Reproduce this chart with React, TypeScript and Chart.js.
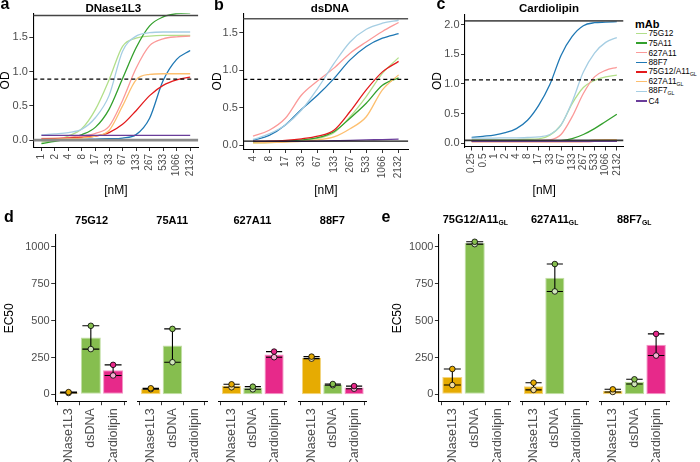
import React, { useEffect, useRef } from "react";
import { Chart, registerables } from "chart.js";
Chart.register(...registerables);

const FONT = "'Liberation Sans', Arial, Helvetica, sans-serif";
Chart.defaults.font.family = FONT;

// ---------------- data: panels a–c (OD vs concentration) ----------------
const MABS = ["75G12", "75A11", "627A11", "88F7", "75G12/A11GL", "627A11GL", "88F7GL", "C4"];
const MAB_COLORS = ["#B2DF8A", "#33A02C", "#FB9A99", "#1F78B4", "#E31A1C", "#FDBF6F", "#A6CEE3", "#6A3D9A"];

const CONC_DNASE = ["1", "2", "4", "8", "17", "33", "67", "133", "267", "533", "1066", "2132"];
const CONC_DSDNA = ["4", "8", "17", "33", "67", "133", "267", "533", "1066", "2132"];
const CONC_CARDIO = ["0.25", "0.5", "1", "2", "4", "8", "17", "33", "67", "133", "267", "533", "1066", "2132"];

// rows follow MABS order
const OD_DNASE: number[][] = [
  [-0.03, 0.0, 0.06, 0.17, 0.45, 0.88, 1.37, 1.49, 1.52, 1.53, 1.53, 1.53],
  [-0.05, -0.02, 0.02, 0.08, 0.19, 0.45, 0.9, 1.35, 1.67, 1.8, 1.85, 1.86],
  [0.025, 0.03, 0.04, 0.06, 0.1, 0.2, 0.58, 1.05, 1.38, 1.48, 1.51, 1.52],
  [0.0, 0.0, 0.005, 0.01, 0.015, 0.02, 0.03, 0.08, 0.32, 0.87, 1.18, 1.31],
  [0.015, 0.02, 0.03, 0.04, 0.06, 0.11, 0.23, 0.43, 0.65, 0.8, 0.88, 0.92],
  [0.01, 0.015, 0.02, 0.03, 0.06, 0.14, 0.5, 0.88, 0.96, 0.97, 0.97, 0.97],
  [0.075, 0.09, 0.11, 0.16, 0.33, 0.65, 1.3, 1.52, 1.57, 1.58, 1.58, 1.58],
  [0.07, 0.07, 0.07, 0.07, 0.07, 0.07, 0.07, 0.07, 0.07, 0.07, 0.07, 0.07],
];
const OD_DSDNA: number[][] = [
  [0.03, 0.035, 0.045, 0.06, 0.09, 0.165, 0.38, 0.65, 0.96, 1.17],
  [0.04, 0.045, 0.055, 0.07, 0.1, 0.18, 0.36, 0.56, 0.8, 0.9],
  [0.12, 0.2, 0.36, 0.67, 0.86, 1.03, 1.23, 1.38, 1.52, 1.64],
  [0.067, 0.13, 0.27, 0.48, 0.67, 0.89, 1.14, 1.32, 1.43, 1.49],
  [0.05, 0.055, 0.065, 0.085, 0.12, 0.2, 0.45, 0.74, 0.98, 1.12],
  [0.03, 0.035, 0.04, 0.05, 0.07, 0.11, 0.22, 0.38, 0.74, 0.94],
  [0.076, 0.15, 0.27, 0.47, 0.76, 1.09, 1.38, 1.55, 1.63, 1.67],
  [0.05, 0.05, 0.05, 0.05, 0.055, 0.06, 0.065, 0.07, 0.075, 0.08],
];
const OD_CARDIO: number[][] = [
  [0.06, 0.06, 0.06, 0.06, 0.065, 0.07, 0.075, 0.14, 0.31, 0.67, 0.94, 1.06, 1.12, 1.15],
  [0.04, 0.04, 0.04, 0.04, 0.04, 0.04, 0.04, 0.04, 0.045, 0.08, 0.15, 0.25, 0.37, 0.49],
  [0.04, 0.04, 0.04, 0.04, 0.045, 0.045, 0.05, 0.06, 0.15, 0.45, 0.84, 1.12, 1.23, 1.28],
  [0.1, 0.12, 0.14, 0.18, 0.25, 0.39, 0.64, 0.99, 1.48, 1.8, 1.98, 2.03, 2.04, 2.05],
  [0.03, 0.03, 0.03, 0.03, 0.03, 0.03, 0.03, 0.03, 0.03, 0.03, 0.03, 0.035, 0.035, 0.035],
  [0.03, 0.03, 0.03, 0.03, 0.03, 0.03, 0.03, 0.03, 0.03, 0.03, 0.035, 0.06, 0.065, 0.065],
  [0.09, 0.09, 0.09, 0.095, 0.095, 0.1, 0.11, 0.15, 0.31, 0.7, 1.2, 1.52, 1.7, 1.78],
  [0.035, 0.035, 0.035, 0.035, 0.035, 0.035, 0.035, 0.035, 0.035, 0.035, 0.035, 0.035, 0.035, 0.035],
];
// reference lines: top plateau, half-max (dashed), baseline
const REF_DNASE = [1.82, 0.89, 0.0];
const REF_DSDNA = [1.69, 0.88, 0.054];
const REF_CARDIO = [2.06, 1.07, 0.05];

const OD_TICKS_AB = [0, 0.5, 1, 1.5];
const OD_TICKS_C = [0, 0.5, 1, 1.5, 2];

// ---------------- data: panels d–e (EC50 bars) ----------------
const TARGETS = ["DNase1L3", "dsDNA", "Cardiolipin"];
const TARGET_COLORS = ["#E6AB02", "#86BE4F", "#E7298A"];
const EC50_TICKS = [0, 250, 500, 750, 1000];

const D_MABS = ["75G12", "75A11", "627A11", "88F7"];
const D_MEAN: (number | null)[][] = [[12, 386, 164], [38, 331, null], [58, 43, 271], [249, 66, 47]];
const D_REP1: (number | null)[][] = [[15, 465, 200], [41, 444, null], [68, 52, 290], [256, 70, 56]];
const D_REP2: (number | null)[][] = [[9, 307, 128], [35, 218, null], [48, 34, 252], [242, 62, 38]];

const E_MABS = ["75G12/A11GL", "627A11GL", "88F7GL"];
const E_MEAN: (number | null)[][] = [[118, 1027, null], [55, 791, null], [25, 86, 337]];
const E_REP1: (number | null)[][] = [[172, 1035, null], [79, 884, null], [34, 102, 410]];
const E_REP2: (number | null)[][] = [[63, 1019, null], [30, 698, null], [16, 70, 263]];

// ---------------- layout / style ----------------
type Area = { left: number; top: number; right: number; bottom: number };
type Box = { L: number; T: number; W: number; H: number };

const TITLE_SIZE = 12;
const TITLE_HALF = (TITLE_SIZE * 1.2) / 2;

const REF_STYLES = {
  a: [
    { color: "#444", width: 1.4, dash: [] as number[] },
    { color: "#000", width: 1.2, dash: [4, 3] },
    { color: "#8a8a8a", width: 2.6, dash: [] as number[] },
  ],
  b: [
    { color: "#555", width: 1.4, dash: [] as number[] },
    { color: "#000", width: 1.2, dash: [4, 3] },
    { color: "#111", width: 1.4, dash: [] as number[] },
  ],
  c: [
    { color: "#555", width: 1.8, dash: [] as number[] },
    { color: "#000", width: 1.2, dash: [4, 3] },
    { color: "#333", width: 1.8, dash: [] as number[] },
  ],
};

function mix(hex: string, t: number) {
  const n = parseInt(hex.slice(1), 16);
  const r = (n >> 16) & 255, g = (n >> 8) & 255, b = n & 255;
  const m = (c: number) => Math.round(c + (255 - c) * t);
  return `rgb(${m(r)},${m(g)},${m(b)})`;
}

function xAxis(labels: string[], height: number, size: number, title?: string) {
  const n = labels.length;
  return {
    type: "linear",
    min: -0.6,
    max: n - 1 + 0.6,
    offset: false,
    afterBuildTicks: (s: any) => {
      s.ticks = labels.map((_, i) => ({ value: i }));
    },
    afterFit: (s: any) => {
      s.height = height;
    },
    ticks: {
      autoSkip: false,
      maxRotation: 90,
      minRotation: 90,
      padding: 3,
      color: "#4D4D4D",
      font: { family: FONT, size },
      callback: (v: any) => labels[Math.round(Number(v))] ?? "",
    },
    grid: { display: true, drawOnChartArea: false, drawTicks: true, tickLength: 3.5, color: "#333", lineWidth: 1 },
    border: { display: true, color: "#000", width: 1.1 },
    title: title
      ? { display: true, text: title, color: "#000", font: { family: FONT, size: TITLE_SIZE }, padding: 0 }
      : { display: false },
  };
}

function yAxis(min: number, max: number, ticks: number[], width: number, show: boolean, title: string, fmt: (v: number) => string, size: number) {
  return {
    type: "linear",
    display: show,
    min,
    max,
    afterBuildTicks: (s: any) => {
      s.ticks = ticks.map((v) => ({ value: v }));
    },
    afterFit: (s: any) => {
      s.width = width;
    },
    ticks: { padding: 1.5, color: "#4D4D4D", font: { family: FONT, size }, callback: (v: any) => fmt(Number(v)) },
    grid: { display: true, drawOnChartArea: false, drawTicks: true, tickLength: 4, color: "#333", lineWidth: 1 },
    border: { display: true, color: "#000", width: 1.1 },
    title: { display: true, text: title, color: "#000", font: { family: FONT, size: TITLE_SIZE }, padding: 0 },
  };
}

function lineConfig(area: Area, box: Box, labels: string[], od: number[][], refs: number[], refStyle: any[], yMin: number, yMax: number, yTicks: number[]) {
  const n = labels.length;
  const xMin = -0.6, xMax = n - 1 + 0.6;
  const refDs = refs.map((v, k) => ({
    type: "line",
    data: [{ x: xMin, y: v }, { x: xMax, y: v }],
    borderColor: refStyle[k].color,
    borderWidth: refStyle[k].width,
    borderDash: refStyle[k].dash,
    pointRadius: 0,
  }));
  const curves = od
    .map((vals, k) => ({
      type: "line",
      data: vals.map((y, i) => ({ x: i, y })),
      borderColor: MAB_COLORS[k],
      borderWidth: 1.3,
      pointRadius: 0,
      cubicInterpolationMode: "monotone",
      fill: false,
    }))
    .reverse();
  return {
    type: "line",
    data: { datasets: [...refDs, ...curves] },
    options: {
      responsive: false,
      animation: false,
      events: [],
      layout: { padding: { top: area.top - box.T, right: box.L + box.W - area.right, left: 0, bottom: 0 } },
      plugins: { legend: { display: false }, tooltip: { enabled: false } },
      scales: {
        x: xAxis(labels, box.T + box.H - area.bottom, 10, "[nM]"),
        y: yAxis(yMin, yMax, yTicks, area.left - box.L, true, "OD", (v) => v.toFixed(1), 11),
      },
    },
  };
}

function errorBarPlugin(rep1: (number | null)[], rep2: (number | null)[], barIndex: number) {
  return {
    id: "errbars",
    afterDatasetDraw(chart: any, args: any) {
      if (args.index !== barIndex) return;
      const { ctx } = chart;
      const x = chart.scales.x, y = chart.scales.y;
      ctx.save();
      ctx.strokeStyle = "#000";
      ctx.lineWidth = 1.1;
      rep1.forEach((a, i) => {
        const b = rep2[i];
        if (a == null || b == null) return;
        const lo = Math.min(a, b), hi = Math.max(a, b);
        const px = x.getPixelForValue(i);
        const half = x.getPixelForValue(i + 0.38) - px;
        const yl = y.getPixelForValue(lo), yh = y.getPixelForValue(hi);
        ctx.beginPath();
        ctx.moveTo(px, yl); ctx.lineTo(px, yh);
        ctx.moveTo(px - half, yl); ctx.lineTo(px + half, yl);
        ctx.moveTo(px - half, yh); ctx.lineTo(px + half, yh);
        ctx.stroke();
      });
      ctx.restore();
    },
  };
}

function barConfig(area: Area, box: Box, showY: boolean, mean: (number | null)[], rep1: (number | null)[], rep2: (number | null)[]) {
  const idx = mean.map((v, i) => (v == null ? -1 : i)).filter((i) => i >= 0);
  const bars = idx.map((i) => ({ x: i, y: mean[i] as number }));
  const i1 = rep1.map((v, i) => (v == null ? -1 : i)).filter((i) => i >= 0);
  const i2 = rep2.map((v, i) => (v == null ? -1 : i)).filter((i) => i >= 0);
  const yWidth = showY ? area.left - box.L : 0;
  return {
    type: "bar",
    data: {
      datasets: [
        {
          type: "line", showLine: false,
          data: i1.map((i) => ({ x: i, y: rep1[i] as number })),
          pointRadius: 2.8, pointBorderWidth: 0.8, pointBorderColor: "#000",
          pointBackgroundColor: i1.map((i) => TARGET_COLORS[i]),
        },
        {
          type: "line", showLine: false,
          data: i2.map((i) => ({ x: i, y: rep2[i] as number })),
          pointRadius: 2.8, pointBorderWidth: 0.8, pointBorderColor: "#000",
          pointBackgroundColor: i2.map((i) => mix(TARGET_COLORS[i], 0.62)),
        },
        {
          type: "bar",
          data: bars,
          backgroundColor: idx.map((i) => TARGET_COLORS[i]),
          borderColor: idx.map((i) => mix(TARGET_COLORS[i], 0.5)),
          borderWidth: 1,
          borderSkipped: false,
          barPercentage: 0.9,
          categoryPercentage: 1,
        },
      ],
    },
    plugins: [errorBarPlugin(rep1, rep2, 2)],
    options: {
      responsive: false,
      animation: false,
      events: [],
      layout: {
        padding: {
          top: area.top - box.T,
          right: box.L + box.W - area.right,
          left: showY ? 0 : area.left - box.L,
          bottom: 0,
        },
      },
      plugins: { legend: { display: false }, tooltip: { enabled: false } },
      scales: {
        x: xAxis(TARGETS, box.T + box.H - area.bottom, 12.5),
        y: yAxis(-50, 1081, EC50_TICKS, yWidth, showY, "EC50", (v) => String(v), 11),
      },
    },
  };
}

function ChartCanvas({ box, make }: { box: Box; make: () => any }) {
  const ref = useRef<HTMLCanvasElement>(null);
  useEffect(() => {
    const ch = new Chart(ref.current as HTMLCanvasElement, make());
    return () => ch.destroy();
  }, []);
  return (
    <canvas
      ref={ref}
      width={box.W}
      height={box.H}
      style={{ position: "absolute", left: box.L, top: box.T, width: box.W, height: box.H }}
    />
  );
}

function mabLabel(name: string) {
  if (name.endsWith("GL")) {
    return (
      <>
        {name.slice(0, -2)}
        <span style={{ fontSize: "0.62em", verticalAlign: "-0.3em" }}>GL</span>
      </>
    );
  }
  return name;
}

function Txt({ x, y, size, bold, children, anchor = "center" }: any) {
  const tx = anchor === "center" ? "-50%" : anchor === "left" ? "0" : "-100%";
  return (
    <div
      style={{
        position: "absolute",
        left: x,
        top: y,
        transform: `translate(${tx}, -50%)`,
        fontFamily: FONT,
        fontSize: size,
        fontWeight: bold ? 700 : 400,
        lineHeight: 1,
        whiteSpace: "nowrap",
        color: "#000",
      }}
    >
      {children}
    </div>
  );
}

const AREA_A: Area = { left: 33.3, top: 13.3, right: 198.3, bottom: 147.5 };
const BOX_A: Box = { L: Math.round(5 - TITLE_HALF), T: 1, W: 206 - Math.round(5 - TITLE_HALF), H: 197 };
const AREA_B: Area = { left: 243.3, top: 13.3, right: 408.3, bottom: 149.5 };
const BOX_B: Box = { L: Math.round(216.7 - TITLE_HALF), T: 1, W: 414 - Math.round(216.7 - TITLE_HALF), H: 197 };
const AREA_C: Area = { left: 465, top: 15, right: 628, bottom: 147 };
const BOX_C: Box = { L: Math.round(437.5 - TITLE_HALF), T: 1, W: 632 - Math.round(437.5 - TITLE_HALF), H: 197 };

const D_CENTERS = [91.6, 172.2, 252.4, 332.4];
const E_CENTERS = [475.3, 554.6, 634.2];
const HALF = 36.4;
const BAR_TOP = 235;
const BAR_BOTTOM = 401.7;

function facetGeom(cx: number, first: boolean, titleX: number) {
  const area: Area = { left: cx - HALF, top: BAR_TOP, right: cx + HALF, bottom: BAR_BOTTOM };
  const L = first ? Math.round(titleX - TITLE_HALF) : Math.floor(area.left) - 2;
  const R = Math.ceil(area.right) + 4;
  const box: Box = { L, T: 223, W: R - L, H: 260 };
  return { area, box };
}

export default function App() {
  const dFacets = D_CENTERS.map((cx, k) => facetGeom(cx, k === 0, 9.6));
  const eFacets = E_CENTERS.map((cx, k) => facetGeom(cx, k === 0, 396.7));
  return (
    <div style={{ position: "fixed", left: 0, top: 0, width: 700, height: 462, background: "#fff", overflow: "hidden" }}>
      <ChartCanvas box={BOX_A} make={() => lineConfig(AREA_A, BOX_A, CONC_DNASE, OD_DNASE, REF_DNASE, REF_STYLES.a, -0.108, 1.853, OD_TICKS_AB)} />
      <ChartCanvas box={BOX_B} make={() => lineConfig(AREA_B, BOX_B, CONC_DSDNA, OD_DSDNA, REF_DSDNA, REF_STYLES.b, -0.058, 1.763, OD_TICKS_AB)} />
      <ChartCanvas box={BOX_C} make={() => lineConfig(AREA_C, BOX_C, CONC_CARDIO, OD_CARDIO, REF_CARDIO, REF_STYLES.c, -0.06, 2.16, OD_TICKS_C)} />

      {dFacets.map((f, k) => (
        <ChartCanvas key={"d" + k} box={f.box} make={() => barConfig(f.area, f.box, k === 0, D_MEAN[k], D_REP1[k], D_REP2[k])} />
      ))}
      {eFacets.map((f, k) => (
        <ChartCanvas key={"e" + k} box={f.box} make={() => barConfig(f.area, f.box, k === 0, E_MEAN[k], E_REP1[k], E_REP2[k])} />
      ))}

      {/* panel letters */}
      <Txt x={5} y={4} size={16} bold>a</Txt>
      <Txt x={219} y={5} size={16} bold>b</Txt>
      <Txt x={441} y={4} size={16} bold>c</Txt>
      <Txt x={9} y={217} size={16} bold>d</Txt>
      <Txt x={386} y={217} size={16} bold>e</Txt>

      {/* panel titles */}
      <Txt x={113.3} y={8.5} size={11.5} bold>DNase1L3</Txt>
      <Txt x={330} y={8.5} size={11.5} bold>dsDNA</Txt>
      <Txt x={549} y={8.5} size={11.5} bold>Cardiolipin</Txt>

      {/* facet titles */}
      {D_MABS.map((m, k) => (
        <Txt key={"dt" + k} x={D_CENTERS[k]} y={220} size={11} bold>{mabLabel(m)}</Txt>
      ))}
      {E_MABS.map((m, k) => (
        <Txt key={"et" + k} x={E_CENTERS[k]} y={220} size={11} bold>{mabLabel(m)}</Txt>
      ))}

      {/* legend */}
      <Txt x={635} y={23.5} size={11} bold anchor="left">mAb</Txt>
      {MABS.map((m, k) => (
        <React.Fragment key={"lg" + k}>
          <div
            style={{
              position: "absolute",
              left: 635.5,
              top: 33.3 + k * 9.67 - 0.75,
              width: 11.5,
              height: 1.5,
              background: MAB_COLORS[k],
            }}
          />
          <Txt x={648.5} y={33.3 + k * 9.67} size={8.3} anchor="left">{mabLabel(m)}</Txt>
        </React.Fragment>
      ))}
    </div>
  );
}
